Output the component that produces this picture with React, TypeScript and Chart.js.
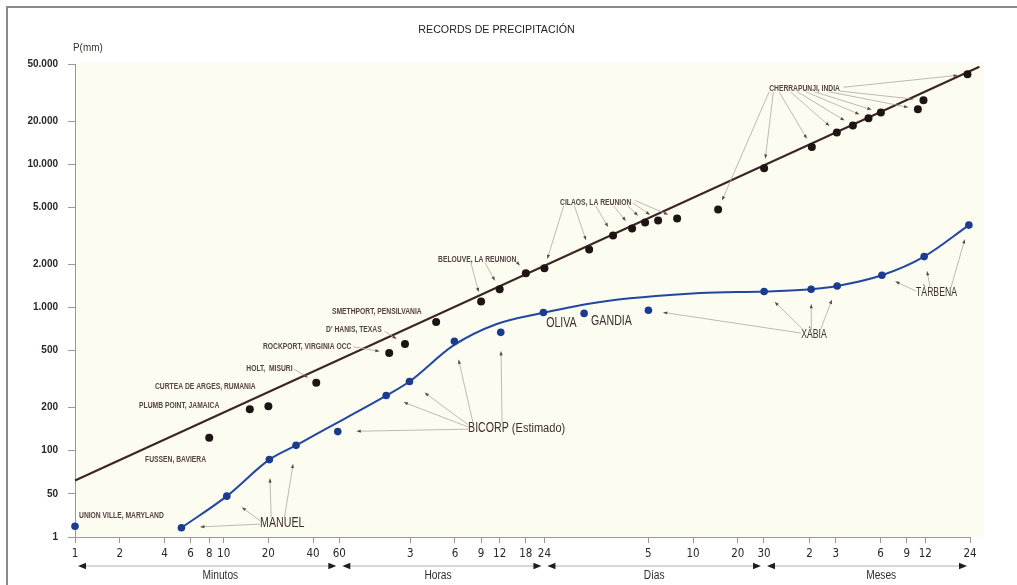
import React, { useEffect, useRef } from "react";
import { Chart, registerables } from "chart.js";

Chart.register(...registerables);

// ---------- text ----------
const chartTitle = "RECORDS DE PRECIPITACIÓN";
const yAxisTitle = "P(mm)";

// ---------- axes (x in minutes, y in mm) ----------
const MONTH = 43800;
const xTickValues = [1, 2, 4, 6, 8, 10, 20, 40, 60, 180, 360, 540, 720, 1080, 1440, 7200, 14400, 28800, 43200, 2 * MONTH, 3 * MONTH, 6 * MONTH, 9 * MONTH, 12 * MONTH, 24 * MONTH];
const xTickLabels = ["1", "2", "4", "6", "8", "10", "20", "40", "60", "3", "6", "9", "12", "18", "24", "5", "10", "20", "30", "2", "3", "6", "9", "12", "24"];
const yTickValues = [25, 50, 100, 200, 500, 1000, 2000, 5000, 10000, 20000, 50000];
const yTickLabels = ["1", "50", "100", "200", "500", "1.000", "2.000", "5.000", "10.000", "20.000", "50.000"];

const groupNames = ["Minutos", "Horas", "Días", "Meses"];
const groupStart = [1, 60, 1440, 43200];
const groupEnd = [60, 1440, 43200, 24 * MONTH];
const groupLabelAt = [9.5, 277, 7880, 265600];

// ---------- world records (black) ----------
const worldDur = [8, 15, 20, 42, 130, 166, 269, 540, 720, 1080, 1440, 2880, 4170, 5600, 6850, 8380, 11250, 21240, 43300, 90700, 133600, 171300, 218100, 264200, 468700, 511300, 1011000];
const worldP = [123, 195, 204, 298, 481, 556, 791, 1100, 1340, 1734, 1877, 2540, 3180, 3560, 3920, 4050, 4180, 4830, 9350, 13150, 16650, 18600, 20950, 22930, 24200, 27960, 42400];

// ---------- Valencian records (blue) ----------
const localDur = [1, 5.2, 10.5, 20.3, 30.7, 58.6, 124, 178, 357, 732, 1417, 2663, 7210, 43300, 89700, 134300, 268500, 516700, 1033000];
const localP = [29.7, 29.0, 48.2, 86.7, 109, 136, 243, 304, 580, 670, 922, 909, 957, 1292, 1340, 1413, 1678, 2264, 3754];

// ---------- envelope curves ----------
const worldLineDur = [1, 1217000];
const worldLineP = [62, 47850];
const localCurveDur = [5.2, 10.5, 20.3, 30.7, 44.5, 125, 178, 350, 688, 1417, 3243, 16070, 43300, 89700, 134300, 268500, 516700, 1033000];
const localCurveP = [29.0, 48.2, 86.7, 109, 135, 243, 304, 541, 766, 918, 1084, 1259, 1292, 1340, 1413, 1678, 2264, 3754];

// ---------- annotations: [series, pointIndex, startFx, startFy] ----------
type Arrow = [string, number, number, number];
type Note = { text: string; suffix?: string; x: number; y: number; kind: string; arrows: Arrow[] };
const notes: Note[] = [
  { text: "UNION VILLE, MARYLAND", x: 1.064, y: 35.6, kind: "s", arrows: [] },
  { text: "FUSSEN, BAVIERA", x: 2.96, y: 87.5, kind: "s", arrows: [] },
  { text: "PLUMB POINT, JAMAICA", x: 2.7, y: 208, kind: "s", arrows: [] },
  { text: "CURTEA DE ARGES, RUMANIA", x: 3.45, y: 283, kind: "s", arrows: [] },
  { text: "HOLT,  MISURI", x: 14.2, y: 378, kind: "s", arrows: [["k", 3, 1.02, 0.6]] },
  { text: "ROCKPORT, VIRGINIA OCC", x: 18.4, y: 538, kind: "s", arrows: [["k", 4, 1.02, 0.6]] },
  { text: "D' HANIS, TEXAS", x: 48.9, y: 707, kind: "s", arrows: [["k", 5, 1.05, 0.8]] },
  { text: "SMETHPORT, PENSILVANIA", x: 53.6, y: 944, kind: "s", arrows: [] },
  { text: "BELOUVE, LA REUNION", x: 277, y: 2178, kind: "s", arrows: [["k", 7, 0.42, 1], ["k", 8, 0.6, 1], ["k", 9, 1.0, 0.8]] },
  { text: "CILAOS, LA REUNION", x: 1836, y: 5442, kind: "s", arrows: [["k", 10, 0.05, 1], ["k", 11, 0.2, 1], ["k", 12, 0.5, 1], ["k", 13, 0.75, 1], ["k", 14, 0.95, 1], ["k", 15, 1.02, 0.6], ["k", 16, 1.05, 0.3]] },
  { text: "CHERRAPUNJI, INDIA", x: 46800, y: 33980, kind: "s", arrows: [["k", 17, 0.0, 1], ["k", 18, 0.06, 1], ["k", 19, 0.14, 1], ["k", 20, 0.3, 1], ["k", 21, 0.4, 1], ["k", 22, 0.52, 1], ["k", 23, 0.64, 1], ["k", 24, 0.85, 1], ["k", 25, 1.0, 0.9], ["k", 26, 1.05, 0.4]] },
  { text: "MANUEL", x: 17.6, y: 31.3, kind: "L", arrows: [["b", 1, 0, 0.6], ["b", 2, 0, 0.3], ["b", 3, 0.25, 0], ["b", 4, 0.55, 0]] },
  { text: "BICORP", suffix: "(Estimado)", x: 441, y: 144, kind: "L", arrows: [["b", 5, 0, 0.6], ["b", 6, 0, 0.4], ["b", 7, 0, 0.2], ["b", 8, 0.05, 0], ["b", 9, 0.35, 0]] },
  { text: "OLIVA", x: 1479, y: 778, kind: "L", arrows: [] },
  { text: "GANDIA", x: 2967, y: 805, kind: "L", arrows: [] },
  { text: "XÀBIA", x: 76900, y: 642, kind: "M", arrows: [["b", 12, 0, 0.3], ["b", 13, 0.1, 0], ["b", 14, 0.4, 0], ["b", 15, 0.75, 0]] },
  { text: "TÀRBENA", x: 456000, y: 1261, kind: "M", arrows: [["b", 16, 0, 0.3], ["b", 17, 0.35, 0], ["b", 18, 0.85, 0]] },
];

const SANS = '"Liberation Sans", Arial, sans-serif';
const NARROW = '"Liberation Sans Narrow", "DejaVu Sans Condensed", "Liberation Sans", sans-serif';

const noteStyle: Record<string, { size: number; sx: number; color: string; gap: number; weight: string }> = {
  s: { size: 9.5, sx: 0.71, color: "#574444", gap: 10, weight: "bold" },
  L: { size: 14, sx: 0.76, color: "#3e2e2e", gap: 19, weight: "normal" },
  M: { size: 12, sx: 0.72, color: "#3e2e2e", gap: 15, weight: "normal" },
};

function drawScaledText(ctx: CanvasRenderingContext2D, text: string, x: number, y: number, font: string, sx: number, color: string, align: string) {
  ctx.save();
  ctx.font = font;
  ctx.fillStyle = color;
  ctx.textBaseline = "middle";
  ctx.textAlign = "left";
  const w = ctx.measureText(text).width * sx;
  const x0 = align === "center" ? x - w / 2 : align === "right" ? x - w : x;
  ctx.translate(x0, y);
  ctx.scale(sx, 1);
  ctx.fillText(text, 0, 0);
  ctx.restore();
  return w;
}

function arrowHead(ctx: CanvasRenderingContext2D, tx: number, ty: number, dx: number, dy: number, len: number, half: number, color: string) {
  ctx.save();
  ctx.fillStyle = color;
  ctx.beginPath();
  ctx.moveTo(tx, ty);
  ctx.lineTo(tx - dx * len - dy * half, ty - dy * len + dx * half);
  ctx.lineTo(tx - dx * len + dy * half, ty - dy * len - dx * half);
  ctx.closePath();
  ctx.fill();
  ctx.restore();
}

const decorPlugin = {
  id: "decor",
  beforeDraw(chart: any) {
    const { ctx, chartArea } = chart;
    ctx.save();
    ctx.fillStyle = "#ffffff";
    ctx.fillRect(0, 0, chart.width, chart.height);
    ctx.fillStyle = "#fcfcf1";
    ctx.fillRect(chartArea.left + 2, chartArea.top - 2, chartArea.right - chartArea.left + 12, chartArea.bottom - chartArea.top + 2);
    ctx.strokeStyle = "#8a8a8a";
    ctx.lineWidth = 2;
    ctx.beginPath();
    ctx.moveTo(7, chart.height);
    ctx.lineTo(7, 7);
    ctx.lineTo(chart.width, 7);
    ctx.stroke();
    ctx.restore();
  },
  afterDraw(chart: any) {
    const { ctx, chartArea } = chart;
    const xs = chart.scales.x;
    const ys = chart.scales.y;
    // title and y-axis title
    drawScaledText(ctx, chartTitle, chart.width / 2 - 12, 30, `11px ${SANS}`, 0.97, "#222222", "center");
    drawScaledText(ctx, yAxisTitle, chartArea.left - 2, chartArea.top - 16, `11px ${SANS}`, 0.9, "#3a3030", "left");

    // period arrows under x axis
    const ay = chartArea.bottom + 29;
    for (let i = 0; i < groupNames.length; i++) {
      const x0 = xs.getPixelForValue(groupStart[i]) + 3;
      const x1 = xs.getPixelForValue(groupEnd[i]) - 3;
      ctx.save();
      ctx.strokeStyle = "#b8b0b0";
      ctx.lineWidth = 1.2;
      ctx.beginPath();
      ctx.moveTo(x0 + 6, ay);
      ctx.lineTo(x1 - 6, ay);
      ctx.stroke();
      ctx.restore();
      arrowHead(ctx, x0, ay, -1, 0, 8, 3.2, "#1e1e1e");
      arrowHead(ctx, x1, ay, 1, 0, 8, 3.2, "#1e1e1e");
      drawScaledText(ctx, groupNames[i], xs.getPixelForValue(groupLabelAt[i]), ay + 10, `12px ${SANS}`, 0.85, "#2e2e2e", "center");
    }

    // annotations
    const pt = (set: string, idx: number) =>
      set === "k"
        ? [xs.getPixelForValue(worldDur[idx]), ys.getPixelForValue(worldP[idx])]
        : [xs.getPixelForValue(localDur[idx]), ys.getPixelForValue(localP[idx])];
    for (const n of notes) {
      const st = noteStyle[n.kind];
      const lx = xs.getPixelForValue(n.x);
      const ly = ys.getPixelForValue(n.y);
      let w = drawScaledText(ctx, n.text, lx, ly, `${st.weight} ${st.size}px ${SANS}`, st.sx, st.color, "left");
      if (n.suffix) {
        w += 3;
        w += drawScaledText(ctx, n.suffix, lx + w, ly + 0.5, `12px ${SANS}`, 0.92, st.color, "left");
      }
      const h = st.size * 0.8;
      const top = ly - h / 2;
      for (const a of n.arrows) {
        const [px, py] = pt(a[0], a[1]);
        const sxp = lx + a[2] * w;
        const syp = top + a[3] * h;
        const dx0 = px - sxp;
        const dy0 = py - syp;
        const d = Math.hypot(dx0, dy0) || 1;
        const ux = dx0 / d;
        const uy = dy0 / d;
        const tx = px - ux * st.gap;
        const ty = py - uy * st.gap;
        ctx.save();
        ctx.strokeStyle = "#b3a6a6";
        ctx.lineWidth = 0.8;
        ctx.beginPath();
        ctx.moveTo(sxp, syp);
        ctx.lineTo(tx, ty);
        ctx.stroke();
        ctx.restore();
        arrowHead(ctx, tx, ty, ux, uy, 4, 1.6, "#5a4444");
      }
    }
  },
};

export default function App() {
  const ref = useRef<HTMLCanvasElement | null>(null);
  useEffect(() => {
    if (!ref.current) return;
    const toXY = (xs: number[], ys: number[]) => xs.map((x, i) => ({ x, y: ys[i] }));
    const axisColor = "#a09494";
    const chart = new Chart(ref.current, {
      type: "scatter",
      data: {
        datasets: [
          { label: "Récords mundiales", data: toXY(worldDur, worldP), pointRadius: 4, pointBackgroundColor: "#1e1414", pointBorderWidth: 0, showLine: false, clip: false } as any,
          { label: "Récords valencianos", data: toXY(localDur, localP), pointRadius: 3.8, pointBackgroundColor: "#1b3b8f", pointBorderWidth: 0, showLine: false, clip: false } as any,
          { label: "Envolvente mundial", data: toXY(worldLineDur, worldLineP), showLine: true, borderColor: "#3b2424", borderWidth: 2, pointRadius: 0, clip: false } as any,
          { label: "Envolvente valenciana", data: toXY(localCurveDur, localCurveP), showLine: true, borderColor: "#2147a0", borderWidth: 2, pointRadius: 0, cubicInterpolationMode: "monotone", clip: false } as any,
        ],
      },
      options: {
        animation: false,
        responsive: false,
        devicePixelRatio: 1,
        events: [],
        layout: { padding: { left: 0, right: 47, top: 64, bottom: 0 } },
        plugins: { legend: { display: false }, tooltip: { enabled: false }, title: { display: false } },
        scales: {
          x: {
            type: "logarithmic",
            position: "bottom",
            min: 1,
            max: 24 * MONTH,
            afterBuildTicks: (s: any) => { s.ticks = xTickValues.map((v) => ({ value: v })); },
            afterFit: (s: any) => { s.height = 48; },
            ticks: {
              autoSkip: false,
              maxRotation: 0,
              minRotation: 0,
              padding: 4,
              color: "#2e2626",
              font: { family: NARROW, size: 11.5 },
              callback: (_v: any, i: number) => xTickLabels[i],
            },
            grid: { drawOnChartArea: false, drawTicks: true, tickLength: 6, color: axisColor },
            border: { display: true, color: axisColor, width: 1 },
          },
          y: {
            type: "logarithmic",
            position: "left",
            min: 25,
            max: 50000,
            afterBuildTicks: (s: any) => { s.ticks = yTickValues.map((v) => ({ value: v })); },
            afterFit: (s: any) => { s.width = 75; },
            ticks: {
              autoSkip: false,
              padding: 10,
              color: "#2e2626",
              font: { family: SANS, size: 10, weight: "bold" },
              callback: (_v: any, i: number) => yTickLabels[i],
            },
            grid: { drawOnChartArea: false, drawTicks: true, tickLength: 7, color: axisColor },
            border: { display: true, color: axisColor, width: 1 },
          },
        },
      },
      plugins: [decorPlugin],
    } as any);
    return () => chart.destroy();
  }, []);
  return (
    <div style={{ position: "absolute", left: 0, top: 0, width: 1017, height: 585 }}>
      <canvas ref={ref} width={1017} height={585} style={{ display: "block", width: 1017, height: 585 }} />
    </div>
  );
}
